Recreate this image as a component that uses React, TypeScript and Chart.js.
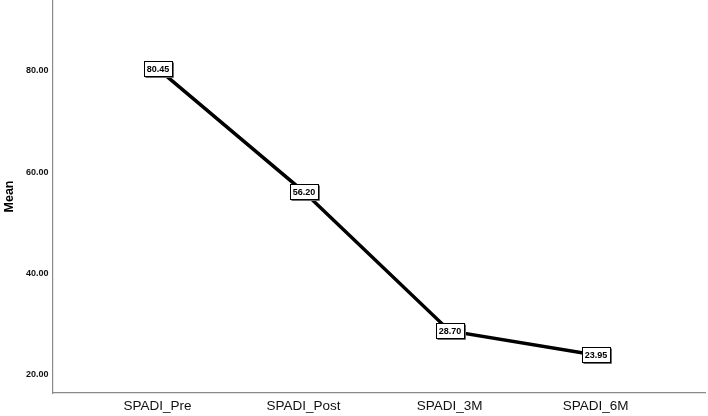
import React, { useEffect, useRef } from "react";
import { Chart, registerables } from "chart.js";

Chart.register(...registerables);

const categories: string[] = ["SPADI_Pre", "SPADI_Post", "SPADI_3M", "SPADI_6M"];
const meanValues: number[] = [80.45, 56.2, 28.7, 23.95];
const yTickValues: number[] = [20, 40, 60, 80];
const yAxisTitle = "Mean";

const FONT = '"Liberation Sans", Arial, sans-serif';

const valueBoxPlugin = {
  id: "valueBoxes",
  afterDatasetsDraw(chart: any) {
    const ctx = chart.ctx as CanvasRenderingContext2D;
    const meta = chart.getDatasetMeta(0);
    ctx.save();
    ctx.font = `bold 9px ${FONT}`;
    ctx.textAlign = "center";
    ctx.textBaseline = "middle";
    meta.data.forEach((pt: any, i: number) => {
      const txt = meanValues[i].toFixed(2);
      const w = Math.round(ctx.measureText(txt).width + 5);
      const h = 15;
      const x0 = Math.round(pt.x - w / 2) + 0.5;
      const y0 = Math.round(pt.y - h / 2) + 0.5;
      ctx.fillStyle = "#ffffff";
      ctx.fillRect(x0, y0, w, h);
      ctx.strokeStyle = "#6a6a6a";
      ctx.lineWidth = 1;
      ctx.beginPath();
      ctx.moveTo(x0 + 1, y0 + h + 1);
      ctx.lineTo(x0 + w + 1, y0 + h + 1);
      ctx.lineTo(x0 + w + 1, y0 + 1);
      ctx.stroke();
      ctx.strokeStyle = "#000000";
      ctx.strokeRect(x0, y0, w, h);
      ctx.fillStyle = "#000000";
      ctx.fillText(txt, pt.x + 0.5, pt.y + 1);
    });
    ctx.restore();
  },
};

export default function App() {
  const canvasRef = useRef<HTMLCanvasElement | null>(null);

  useEffect(() => {
    if (!canvasRef.current) return;
    Chart.defaults.font.family = FONT;
    const chart = new Chart(canvasRef.current, {
      type: "line",
      data: {
        datasets: [
          {
            data: meanValues.map((v, i) => ({ x: i, y: v })),
            borderColor: "#000000",
            borderWidth: 3.5,
            pointRadius: 0,
            tension: 0,
            fill: false,
          },
        ],
      },
      options: {
        responsive: false,
        animation: false,
        layout: { padding: { left: 0, right: 3, top: 0, bottom: 0 } },
        plugins: {
          legend: { display: false },
          tooltip: { enabled: false },
        },
        scales: {
          x: {
            type: "linear",
            min: -0.72,
            max: 3.75,
            grid: { display: false, drawTicks: false },
            border: { display: true, color: "#8a8a8a", width: 1.2 },
            ticks: {
              padding: 5,
              color: "#111111",
              font: { size: 13.5, family: FONT },
              callback: (value: any) => categories[Math.round(Number(value))] ?? "",
            },
            afterBuildTicks: (scale: any) => {
              scale.ticks = categories.map((_, i) => ({ value: i }));
            },
            afterFit: (scale: any) => {
              scale.height = 23;
              scale.paddingLeft = 0;
              scale.paddingRight = 0;
            },
          },
          y: {
            type: "linear",
            min: 16.45,
            max: 94,
            grid: { display: false, drawTicks: false },
            border: { display: true, color: "#8a8a8a", width: 1.2 },
            title: {
              display: true,
              text: yAxisTitle,
              color: "#000000",
              font: { size: 12.5, weight: "bold", family: FONT },
              padding: { top: 2, bottom: 0 },
            },
            ticks: {
              padding: 4,
              color: "#111111",
              font: { size: 9, weight: "bold", family: FONT },
              callback: (value: any) => Number(value).toFixed(2),
            },
            afterBuildTicks: (scale: any) => {
              scale.ticks = yTickValues.map((v) => ({ value: v }));
            },
            afterFit: (scale: any) => {
              scale.width = 52.5;
              scale.paddingTop = 0;
              scale.paddingBottom = 0;
            },
          },
        },
      },
      plugins: [valueBoxPlugin],
    });
    return () => chart.destroy();
  }, []);

  return (
    <div style={{ position: "fixed", left: 0, top: 0, width: 708, height: 416, background: "#ffffff" }}>
      <canvas ref={canvasRef} width={708} height={416} style={{ width: 708, height: 416, display: "block" }} />
    </div>
  );
}
